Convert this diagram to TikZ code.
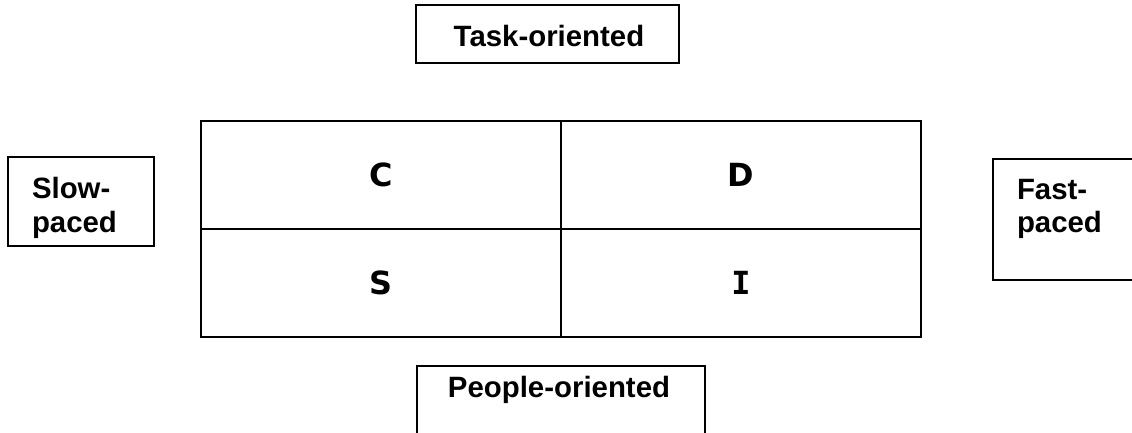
\documentclass[tikz,border=0pt]{standalone}
\usepackage{fontspec}
\setmainfont{Liberation Sans}
\newfontfamily\letterfont{DejaVu Sans}
\newfontfamily\serifletterfont{DejaVu Sans Mono}
\begin{document}
\begin{tikzpicture}[x=1bp,y=-1bp,
  frame/.style={draw, line width=1.3bp, inner sep=0pt, outer sep=0pt, anchor=north west},
  cell/.style={draw, line width=1.7bp, minimum width=360bp, minimum height=108bp,
    inner sep=0pt, outer sep=0pt, font=\letterfont\bfseries\fontsize{32}{36}\selectfont},
  caption/.style={font=\bfseries\fontsize{29.5}{34}\selectfont, inner sep=0pt, outer sep=0pt}
]
\clip (0,0) rectangle (1132,432);

% side boxes
\node[frame, minimum width=263bp, minimum height=58bp] (taskbox) at (416,5) {};
\node[frame, minimum width=146bp, minimum height=89bp] (slowbox) at (8,157) {};
\node[frame, minimum width=160bp, minimum height=121bp] (fastbox) at (993,159) {};
\node[frame, minimum width=288bp, minimum height=90bp] (peoplebox) at (417,366) {};

\node[caption, anchor=base] (task) at (549,46) {Task-oriented};
\node[caption, anchor=base] (people) at (559,397) {People-oriented};
\node[caption, anchor=base west] (slow1) at (32,198) {Slow-};
\node[caption, anchor=base west] (slow2) at (32,232) {paced};
\node[caption, anchor=base west] (fast1) at (1017,199) {Fast-};
\node[caption, anchor=base west] (fast2) at (1017,232) {paced};

% quadrant grid
\node[cell] (C) at (381,175) {C};
\node[cell] (D) at (741,175) {D};
\node[cell] (S) at (381,283) {S};
\node[cell, font=\serifletterfont\bfseries\fontsize{32}{36}\selectfont] (I) at (741,283) {I};
\end{tikzpicture}
\end{document}
